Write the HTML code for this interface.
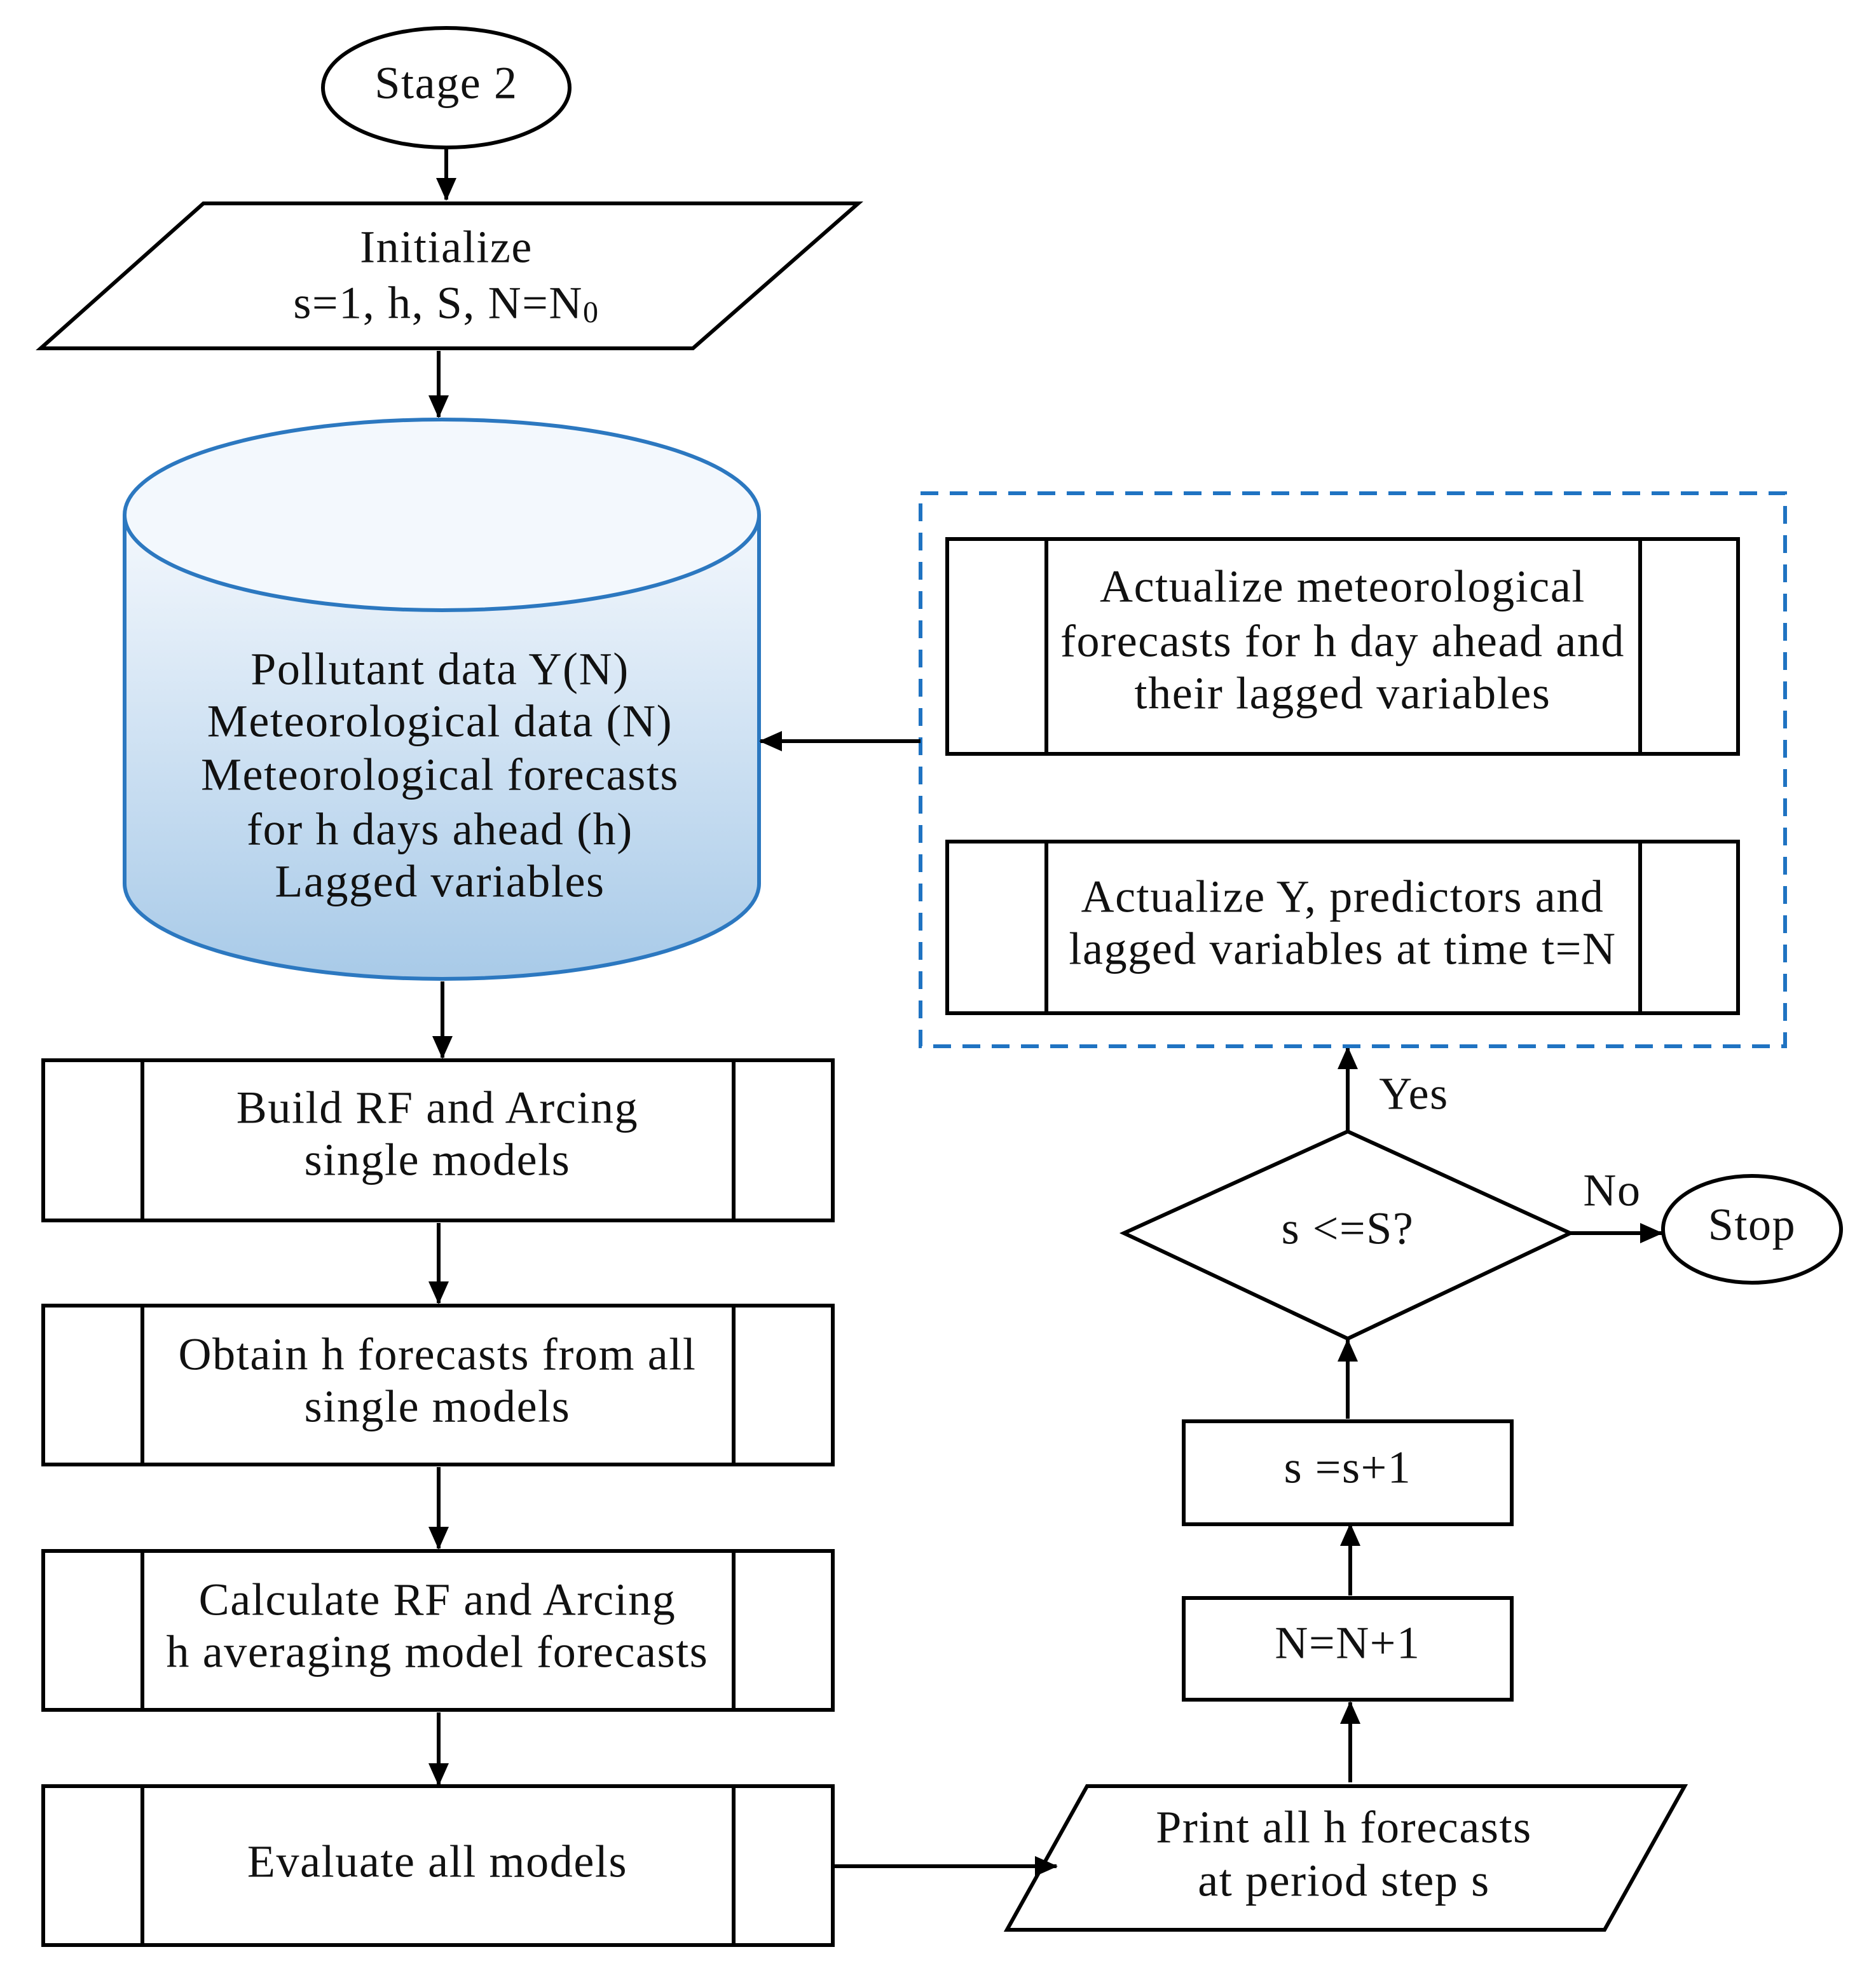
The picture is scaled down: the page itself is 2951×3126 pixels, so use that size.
<!DOCTYPE html>
<html><head><meta charset="utf-8"><style>
html,body{margin:0;padding:0;background:#fff;}
svg{display:block;}
text{font-family:"Liberation Serif",serif;font-size:36px;letter-spacing:0.8px;fill:#111;text-anchor:middle;dominant-baseline:middle;}
</style></head><body>
<svg width="2951" height="3126" viewBox="0 0 1475.5 1563" xmlns="http://www.w3.org/2000/svg">
<defs>
<marker id="ah" markerWidth="18" markerHeight="16" refX="17" refY="8" orient="auto" markerUnits="userSpaceOnUse" viewBox="0 0 18 16">
<path d="M0,0 L18,8 L0,16 z" fill="#000"/></marker>
<linearGradient id="cyl" x1="0" y1="0" x2="0" y2="1">
<stop offset="0" stop-color="#f4f8fd"/><stop offset="1" stop-color="#a8cae8"/></linearGradient>
</defs>
<g stroke="#000" stroke-width="3" fill="none">
<ellipse cx="351" cy="69" rx="97" ry="47" fill="#fff"/>
<line x1="351" y1="117" x2="351" y2="157" marker-end="url(#ah)"/>
<polygon points="160,160 675,160 545,274 32,274" fill="#fff"/>
<line x1="345" y1="276" x2="345" y2="328" marker-end="url(#ah)"/>
<path d="M98,405 L98,695 A249.5,75 0 0 0 597,695 L597,405" fill="url(#cyl)" stroke="#2c78c0"/>
<ellipse cx="347.5" cy="405" rx="249.5" ry="75" fill="#f3f8fd" stroke="#2c78c0"/>
<line x1="348" y1="772" x2="348" y2="832" marker-end="url(#ah)"/>
<rect x="34" y="834" width="621" height="126"/><line x1="112" y1="834" x2="112" y2="960"/><line x1="577" y1="834" x2="577" y2="960"/>
<line x1="345" y1="962" x2="345" y2="1025" marker-end="url(#ah)"/>
<rect x="34" y="1027" width="621" height="125"/><line x1="112" y1="1027" x2="112" y2="1152"/><line x1="577" y1="1027" x2="577" y2="1152"/>
<line x1="345" y1="1154" x2="345" y2="1218" marker-end="url(#ah)"/>
<rect x="34" y="1220" width="621" height="125"/><line x1="112" y1="1220" x2="112" y2="1345"/><line x1="577" y1="1220" x2="577" y2="1345"/>
<line x1="345" y1="1347" x2="345" y2="1404" marker-end="url(#ah)"/>
<rect x="34" y="1405" width="621" height="125"/><line x1="112" y1="1405" x2="112" y2="1530"/><line x1="577" y1="1405" x2="577" y2="1530"/>
<line x1="655" y1="1468" x2="831" y2="1468" marker-end="url(#ah)"/>
<polygon points="855,1405 1325,1405 1262,1518 792,1518"/>
<line x1="1062" y1="1402" x2="1062" y2="1339" marker-end="url(#ah)"/>
<rect x="931" y="1257" width="258" height="80"/>
<line x1="1062" y1="1255" x2="1062" y2="1199" marker-end="url(#ah)"/>
<rect x="931" y="1118" width="258" height="81"/>
<line x1="1060" y1="1116" x2="1060" y2="1054" marker-end="url(#ah)"/>
<polygon points="884,970 1060,890 1235,970 1060,1053" fill="#fff"/>
<line x1="1235" y1="970" x2="1307" y2="970" marker-end="url(#ah)"/>
<ellipse cx="1378" cy="967" rx="70" ry="42"/>
<line x1="1060" y1="889" x2="1060" y2="824" marker-end="url(#ah)"/>
<rect x="724" y="388" width="680" height="435" stroke="#1f73c2" stroke-dasharray="14,9"/>
<rect x="745" y="424" width="622" height="169"/><line x1="823" y1="424" x2="823" y2="593"/><line x1="1290" y1="424" x2="1290" y2="593"/>
<rect x="745" y="662" width="622" height="135"/><line x1="823" y1="662" x2="823" y2="797"/><line x1="1290" y1="662" x2="1290" y2="797"/>
<line x1="724" y1="583" x2="598" y2="583" marker-end="url(#ah)"/>
</g>
<text x="351" y="69">Stage 2</text>
<text x="351" y="198">Initialize</text>
<text x="351" y="242">s=1, h, S, N=N<tspan font-size="24" dy="6">0</tspan></text>
<text x="346" y="530">Pollutant data Y(N)</text>
<text x="346" y="571">Meteorological data (N)</text>
<text x="346" y="613">Meteorological forecasts</text>
<text x="346" y="656">for h days ahead (h)</text>
<text x="346" y="697">Lagged variables</text>
<text x="344" y="875">Build RF and Arcing</text>
<text x="344" y="916">single models</text>
<text x="344" y="1069">Obtain h forecasts from all</text>
<text x="344" y="1110">single models</text>
<text x="344" y="1262">Calculate RF and Arcing</text>
<text x="344" y="1303">h averaging model forecasts</text>
<text x="344" y="1468">Evaluate all models</text>
<text x="1057" y="1441">Print all h forecasts</text>
<text x="1057" y="1483">at period step s</text>
<text x="1060" y="1296">N=N+1</text>
<text x="1060" y="1158">s =s+1</text>
<text x="1060" y="970">s &lt;=S?</text>
<text x="1268" y="940">No</text>
<text x="1378" y="967">Stop</text>
<text x="1112" y="864">Yes</text>
<text x="1056" y="465">Actualize meteorological</text>
<text x="1056" y="508">forecasts for h day ahead and</text>
<text x="1056" y="549">their lagged variables</text>
<text x="1056" y="709">Actualize Y, predictors and</text>
<text x="1056" y="750">lagged variables at time t=N</text>
</svg>
</body></html>
